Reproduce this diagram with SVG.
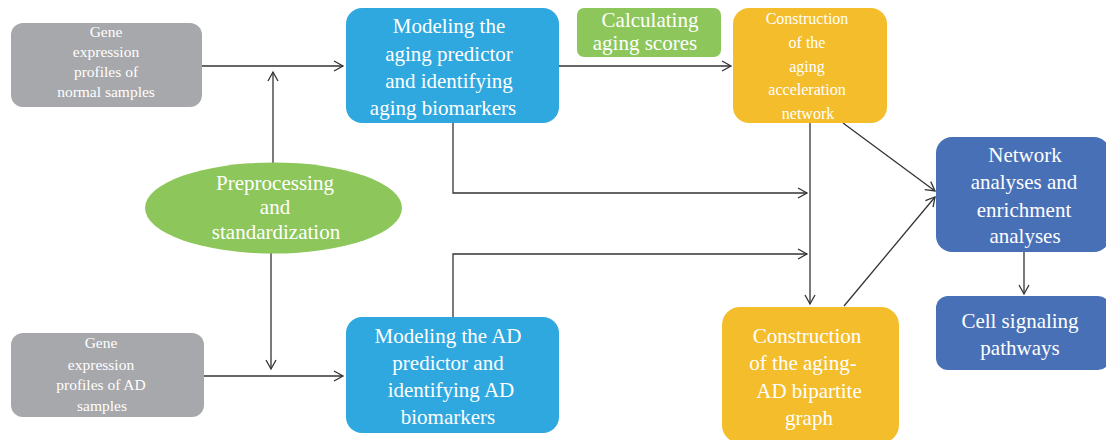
<svg xmlns="http://www.w3.org/2000/svg" width="1106" height="440" viewBox="0 0 1106 440">
<style>
text{font-family:"Liberation Serif","Times New Roman",serif;fill:#ffffff;text-anchor:middle}
.gray{fill:#a7a8ab}.blue{fill:#2ea8df}.dblue{fill:#4870b7}.yel{fill:#f4bd2b}.grn{fill:#8dc75b}
.s{font-size:15.5px}.m{font-size:16px}.l{font-size:21px}
.c{fill:none;stroke:#333333;stroke-width:1.3}
</style>
<defs>
<marker id="ah" markerWidth="12" markerHeight="12" refX="10" refY="6" orient="auto" markerUnits="userSpaceOnUse">
<path d="M1,1 L10,6 L1,11" fill="none" stroke="#333333" stroke-width="1.3"/>
</marker>
</defs>
<rect width="1106" height="440" fill="#ffffff"/>
<g id="connectors">
<line class="c" x1="202" y1="66" x2="343" y2="66" marker-end="url(#ah)"/>
<line class="c" x1="204" y1="376" x2="343" y2="376" marker-end="url(#ah)"/>
<line class="c" x1="273" y1="163" x2="273" y2="72" marker-end="url(#ah)"/>
<line class="c" x1="271" y1="253" x2="271" y2="369" marker-end="url(#ah)"/>
<line class="c" x1="559" y1="66" x2="731" y2="66" marker-end="url(#ah)"/>
<polyline class="c" points="453,123 453,193 807,193" marker-end="url(#ah)"/>
<polyline class="c" points="453,317 453,254 807,254" marker-end="url(#ah)"/>
<line class="c" x1="810" y1="123" x2="810" y2="304" marker-end="url(#ah)"/>
<line class="c" x1="843" y1="123" x2="935" y2="191" marker-end="url(#ah)"/>
<line class="c" x1="844" y1="306" x2="935" y2="197" marker-end="url(#ah)"/>
<line class="c" x1="1024" y1="252" x2="1024" y2="294" marker-end="url(#ah)"/>
</g>
<g id="gene-normal">
<rect class="gray" x="11" y="23" width="191" height="84" rx="12"/>
<text class="s" x="106" y="37">Gene</text>
<text class="s" x="106" y="57">expression</text>
<text class="s" x="106" y="77">profiles of</text>
<text class="s" x="106" y="97">normal samples</text>
</g>
<g id="gene-ad">
<rect class="gray" x="11" y="333" width="193" height="84" rx="12"/>
<text class="s" x="101" y="348">Gene</text>
<text class="s" x="101" y="370">expression</text>
<text class="s" x="101" y="390">profiles of AD</text>
<text class="s" x="102" y="411">samples</text>
</g>
<g id="preprocessing">
<ellipse class="grn" cx="273.5" cy="208" rx="128.5" ry="45.5"/>
<text class="l" x="275" y="190">Preprocessing</text>
<text class="l" x="275" y="214">and</text>
<text class="l" x="276" y="239">standardization</text>
</g>
<g id="aging-predictor">
<rect class="blue" x="346" y="8" width="213" height="115" rx="16"/>
<text class="l" x="449" y="33">Modeling the</text>
<text class="l" x="449" y="61">aging predictor</text>
<text class="l" x="449" y="88">and identifying</text>
<text class="l" x="443" y="115">aging biomarkers</text>
</g>
<g id="ad-predictor">
<rect class="blue" x="346" y="317" width="213" height="116" rx="16"/>
<text class="l" x="448" y="343">Modeling the AD</text>
<text class="l" x="448" y="370">predictor and</text>
<text class="l" x="451" y="397">identifying AD</text>
<text class="l" x="448" y="424">biomarkers</text>
</g>
<g id="aging-scores">
<rect class="grn" x="577" y="8" width="144" height="49" rx="7"/>
<text class="l" x="650" y="27">Calculating</text>
<text class="l" x="645" y="50">aging scores</text>
</g>
<g id="aging-acceleration-network">
<rect class="yel" x="733" y="8" width="154" height="115" rx="16"/>
<text class="m" x="807" y="24">Construction</text>
<text class="m" x="807" y="48">of the</text>
<text class="m" x="807" y="72">aging</text>
<text class="m" x="807" y="95">acceleration</text>
<text class="m" x="808" y="119">network</text>
</g>
<g id="bipartite-graph">
<rect class="yel" x="722" y="307" width="177" height="136" rx="18"/>
<text class="l" x="807" y="343">Construction</text>
<text class="l" x="803" y="370">of the aging-</text>
<text class="l" x="809" y="398">AD bipartite</text>
<text class="l" x="809" y="425">graph</text>
</g>
<g id="network-analyses">
<rect class="dblue" x="936" y="137" width="174" height="115" rx="16"/>
<text class="l" x="1025" y="162">Network</text>
<text class="l" x="1024" y="189">analyses and</text>
<text class="l" x="1024" y="217">enrichment</text>
<text class="l" x="1025" y="243">analyses</text>
</g>
<g id="cell-signaling">
<rect class="dblue" x="936" y="296" width="174" height="74" rx="12"/>
<text class="l" x="1020" y="328">Cell signaling</text>
<text class="l" x="1020" y="355">pathways</text>
</g>
</svg>
